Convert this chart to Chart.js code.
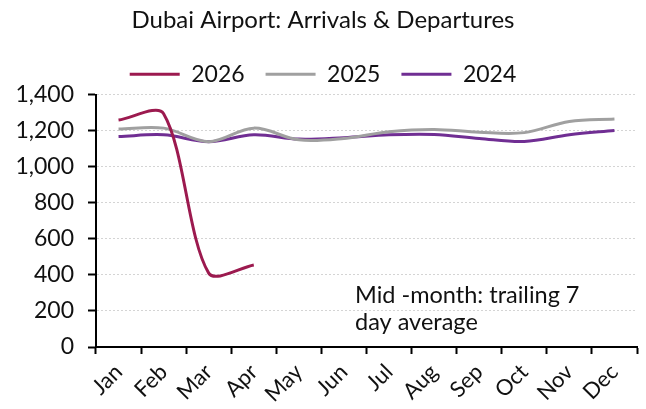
<!DOCTYPE html>
<html>
<head>
<meta charset="utf-8">
<script src="https://cdn.jsdelivr.net/npm/chart.js@4/dist/chart.umd.min.js"></script>
<style>
    html, body { margin: 0; padding: 0; background: #ffffff; }
    #wrap { width: 646px; height: 409px; position: relative; }
</style>
</head>
<body>
<div id="wrap"><canvas id="chart"></canvas></div>
<script>
// Data (mid-month trailing 7 day average)
const months = ['Jan', 'Feb', 'Mar', 'Apr', 'May', 'Jun', 'Jul', 'Aug', 'Sep', 'Oct', 'Nov', 'Dec'];
const values2026 = [1260, 1295, 410, 455];
const values2025 = [1210, 1215, 1140, 1215, 1150, 1158, 1195, 1208, 1192, 1190, 1252, 1265];
const values2024 = [1168, 1178, 1140, 1178, 1154, 1162, 1178, 1180, 1158, 1141, 1178, 1202];
const yTicks = [0, 200, 400, 600, 800, 1000, 1200, 1400];
const noteLines = ['Mid -month: trailing 7', 'day average'];

const FONT = 'Lato, "Open Sans", sans-serif';

// Text box in the lower right of the plot
const notePlugin = {
    id: 'note',
    afterDraw(chart) {
        const ctx = chart.ctx;
        ctx.save();
        ctx.font = '23.5px ' + FONT;
        ctx.fillStyle = '#111111';
        ctx.textBaseline = 'alphabetic';
        ctx.fillText(noteLines[0], 355, 303);
        ctx.fillText(noteLines[1], 355, 330);
        ctx.restore();
    }
};

function makeSeries(label, data, color, tension) {
    return {
        label: label,
        data: data,
        borderColor: color,
        backgroundColor: color,
        borderWidth: 3,
        pointRadius: 0,
        pointHoverRadius: 0,
        tension: tension,
        fill: false
    };
}

const ctx = document.getElementById('chart').getContext('2d');
new Chart(ctx, {
    type: 'line',
    data: {
        labels: months,
        datasets: [
            makeSeries('2026', values2026, '#9c1a4f', 0.3),
            makeSeries('2025', values2025, '#a0a0a0', 0.35),
            makeSeries('2024', values2024, '#702e93', 0.35)
        ]
    },
    options: {
        responsive: true,
        maintainAspectRatio: false,
        animation: false,
        layout: { padding: { left: 9, right: 9, top: 0, bottom: 0 } },
        plugins: {
            title: {
                display: true,
                text: 'Dubai Airport: Arrivals & Departures',
                color: '#111111',
                font: { family: FONT, size: 24, weight: 'normal' },
                padding: { top: 6, bottom: 7 }
            },
            legend: {
                display: true,
                maxHeight: 53,
                labels: {
                    usePointStyle: true,
                    pointStyle: 'line',
                    pointStyleWidth: 50,
                    padding: 21,
                    color: '#111111',
                    font: { family: FONT, size: 23 }
                }
            },
            tooltip: { enabled: false }
        },
        scales: {
            x: {
                offset: true,
                grid: {
                    offset: true,
                    drawOnChartArea: false,
                    drawTicks: true,
                    tickLength: 7,
                    tickColor: '#000000',
                    tickWidth: 2
                },
                border: { display: true, color: '#000000', width: 2 },
                ticks: {
                    color: '#111111',
                    font: { family: FONT, size: 22 },
                    maxRotation: 45,
                    minRotation: 45,
                    padding: 5,
                    autoSkip: false
                },
                afterFit(scale) { scale.height = 62; }
            },
            y: {
                min: 0,
                max: 1400,
                afterBuildTicks(scale) { scale.ticks = yTicks.map(v => ({ value: v })); },
                grid: {
                    color: '#d4d4d4',
                    lineWidth: 1,
                    drawTicks: true,
                    tickLength: 8,
                    tickColor: '#000000',
                    tickWidth: 2
                },
                border: { display: true, color: '#000000', width: 2, dash: [2, 2] },
                ticks: {
                    color: '#111111',
                    font: { family: FONT, size: 23 },
                    padding: 14,
                    callback: v => v.toLocaleString('en-US')
                },
                afterFit(scale) { scale.width = 87; }
            }
        }
    },
    plugins: [notePlugin]
});
</script>
</body>
</html>
